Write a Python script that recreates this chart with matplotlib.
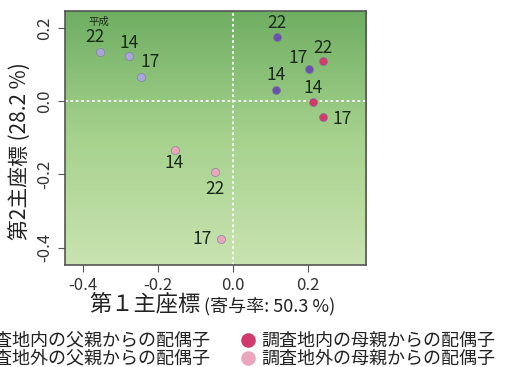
import numpy as np
import matplotlib.pyplot as plt
from matplotlib.lines import Line2D
from matplotlib.colors import LinearSegmentedColormap

plt.rcParams['font.family'] = ['Noto Sans CJK JP', 'DejaVu Sans']

# PCoA coordinates, labels = 平成 year
years = ['22', '14', '17']
father_out_x = [-0.355, -0.277, -0.245]
father_out_y = [0.135, 0.124, 0.067]
father_in_x = [0.117, 0.115, 0.203]
father_in_y = [0.174, 0.031, 0.087]
mother_in_x = [0.241, 0.214, 0.241]
mother_in_y = [0.110, -0.001, -0.042]
mother_out_x = [-0.047, -0.155, -0.030]
mother_out_y = [-0.193, -0.134, -0.377]

legend_labels = ['調査地内の父親からの配偶子', '調査地外の父親からの配偶子',
                 '調査地内の母親からの配偶子', '調査地外の母親からの配偶子']
xticks = [-0.4, -0.2, 0.0, 0.2]
yticks = [0.2, 0.0, -0.2, -0.4]

c_fin = '#6a52a8'
c_fout = '#a9a6dc'
c_min = '#d13a6c'
c_mout = '#eaa6bd'

fig = plt.figure(figsize=(5.06, 3.67), dpi=100)
ax = fig.add_axes([0.128, 0.278, 0.595, 0.692])
ax.set_xlim(-0.448, 0.355)
ax.set_ylim(-0.447, 0.246)

# green gradient background
grad = np.linspace(0, 1, 256).reshape(-1, 1)
cmap = LinearSegmentedColormap.from_list('g', ['#c9e3b1', '#a6d28d', '#6fae62'])
ax.imshow(grad, extent=[-0.448, 0.355, -0.447, 0.246], origin='lower',
          aspect='auto', cmap=cmap, zorder=0)

ax.axhline(0, color='white', ls=(0, (1.5, 1.5)), lw=1.3, zorder=1)
ax.axvline(0, color='white', ls=(0, (1.5, 1.5)), lw=1.3, zorder=1)

def pts(xs, ys, col, offs):
    ax.scatter(xs, ys, s=34, color=col, edgecolor='#7a7a9a', linewidth=0.4, zorder=3)
    for x, y, t, o in zip(xs, ys, years, offs):
        ax.annotate(t, (x, y), xytext=o, textcoords='offset pixels',
                    ha='center', va='center', fontsize=12.5, color='#1a2a1a', zorder=4)

pts(father_out_x, father_out_y, c_fout, [(-5, 15), (0, 13), (9, 15)])
pts(father_in_x, father_in_y, c_fin, [(0, 14), (0, 15), (-11, 11)])
pts(mother_in_x, mother_in_y, c_min, [(0, 13), (0, 14), (19, -2)])
pts(mother_out_x, mother_out_y, c_mout, [(0, -17), (0, -13), (-19, 0)])
ax.annotate('平成', (father_out_x[0], father_out_y[0]), xytext=(-1, 30),
            textcoords='offset pixels', ha='center', va='center', fontsize=7.5,
            color='#1a2a1a')

ax.set_xticks(xticks)
ax.set_xticklabels(['-0.4', '-0.2', '0.0', '0.2'])
ax.set_yticks(yticks)
ax.set_yticklabels(['0.2', '0.0', '-0.2', '-0.4'], rotation=90, va='center')
ax.tick_params(labelsize=12, length=5, color='#555555', labelcolor='#333333')
for s in ax.spines.values():
    s.set_color('#555555')
    s.set_linewidth(1.2)

# axis titles
fig.text(201 / 506, 1 - 304 / 367, '第１主座標', ha='right', va='center', fontsize=16, color='#222222')
fig.text(204 / 506, 1 - 306 / 367, '(寄与率: 50.3 %)', ha='left', va='center', fontsize=13, color='#222222')
fig.text(21 / 506, 1 - 151 / 367, '第2主座標 (28.2 %)', ha='center', va='center',
         rotation=90, fontsize=15, color='#222222')

# legend: left column runs off the left edge, as in the source image
handles = [Line2D([], [], ls='', marker='o', ms=9.5, color=c) for c in [c_fin, c_fout, c_min, c_mout]]
fig.legend(handles, legend_labels, ncol=2, loc='center right', bbox_to_anchor=(495 / 506, 1 - 350 / 367),
           frameon=False, fontsize=13, handletextpad=0.2, columnspacing=1.6,
           labelspacing=0.0, handlelength=1.0, labelcolor='#222222', borderpad=0, borderaxespad=0)

fig.savefig('out.png', dpi=100)
